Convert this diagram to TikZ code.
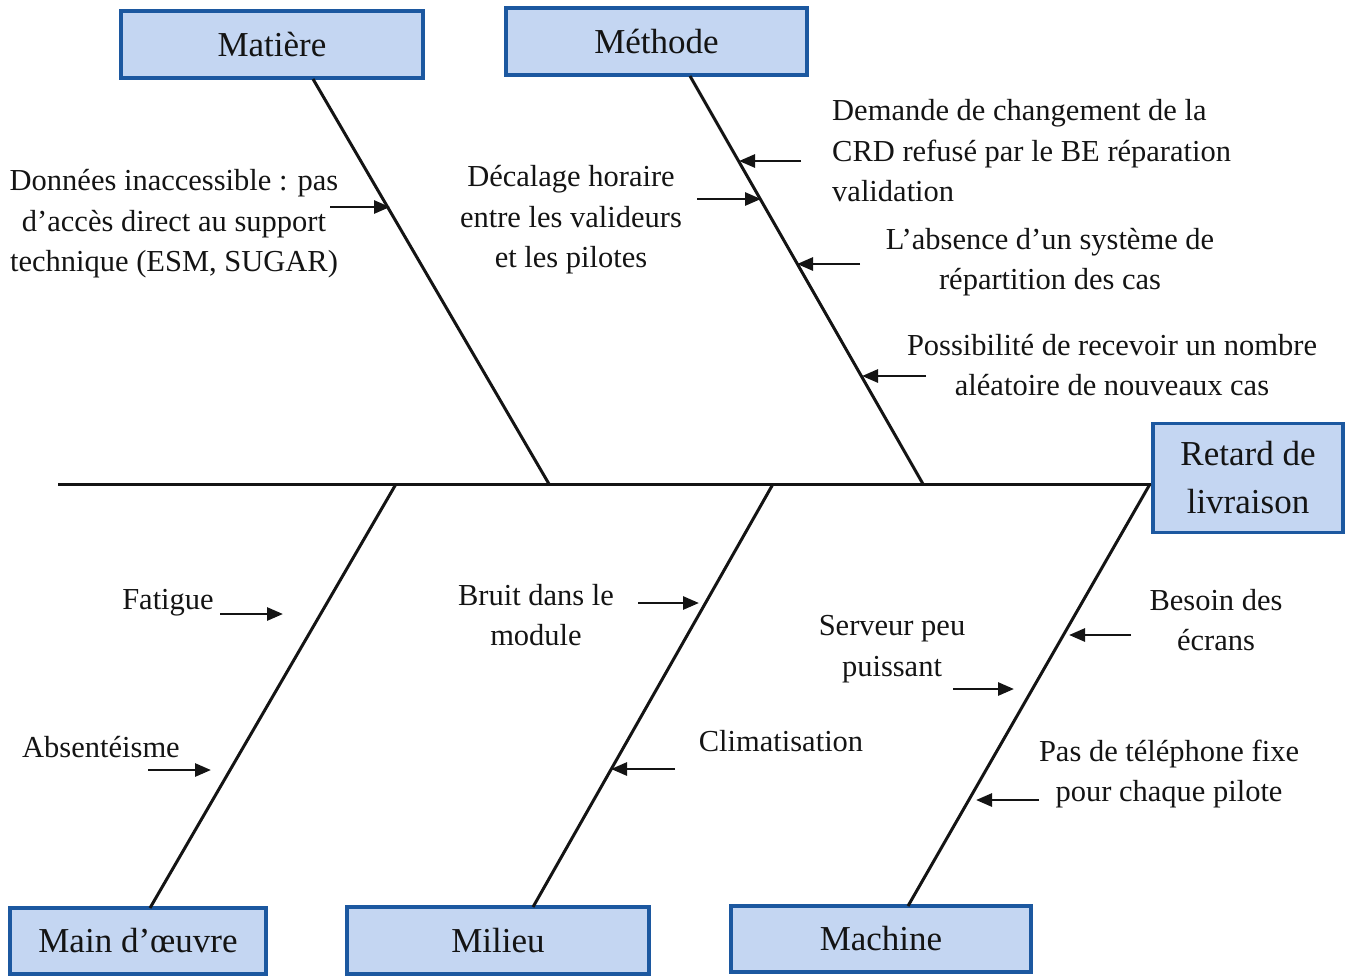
\documentclass[tikz,border=0pt]{standalone}
\usepackage{fontspec}
\setmainfont{Liberation Serif}
\usetikzlibrary{arrows.meta}
\definecolor{boxfill}{RGB}{196,214,242}
\definecolor{boxline}{RGB}{28,88,160}
\definecolor{ink}{RGB}{20,20,20}
\tikzset{
  catbox/.style={draw=boxline, fill=boxfill, line width=3.5pt, inner sep=0pt, align=center,
    font=\fontsize{35}{48}\selectfont, text=ink},
  lbl/.style={inner sep=0pt, align=center, font=\fontsize{30.5}{40.5}\selectfont, text=ink},
  bone/.style={draw=ink, line width=3pt},
  cause/.style={draw=ink, line width=2.8pt, -{Triangle[length=16pt,width=13pt]}}
}
\begin{document}
\begin{tikzpicture}[x=1pt,y=-1pt]
\useasboundingbox (0,0) rectangle (1348,975);
% boxes
\node[catbox, minimum width=302pt, minimum height=67pt] (matiere) at (272,44.5) {Matière};
\node[catbox, minimum width=301pt, minimum height=67pt] (methode) at (656.5,41.5) {Méthode};
\node[catbox, minimum width=190pt, minimum height=109pt] (retard) at (1248,478) {Retard de\\livraison};
\node[catbox, minimum width=256pt, minimum height=66pt] (main) at (138,941) {Main d’œuvre};
\node[catbox, minimum width=302pt, minimum height=67pt] (milieu) at (498,940.5) {Milieu};
\node[catbox, minimum width=300pt, minimum height=66pt] (machine) at (881,939) {Machine};
% spine
\coordinate (tail) at (58,484);
\draw[bone] (tail) -- (retard.west |- tail);
% bone coordinates
\coordinate (mA) at (313,79);   \coordinate (mB) at (549,484);
\coordinate (meA) at (690,76);  \coordinate (meB) at (923,484);
\coordinate (moA) at (396,484); \coordinate (moB) at (150,908);
\coordinate (miA) at (773,484); \coordinate (miB) at (533,907);
\coordinate (maA) at (1150,484);\coordinate (maB) at (908,906);
\draw[bone] (mA) -- (mB);
\draw[bone] (meA) -- (meB);
\draw[bone] (moA) -- (moB);
\draw[bone] (miA) -- (miB);
\draw[bone] (maA) -- (maB);
% labels
\node[lbl] (t1) at (174,224) {Données inaccessible : pas\\d’accès direct au support\\technique (ESM, SUGAR)};
\node[lbl] (t2) at (571,220) {Décalage horaire\\entre les valideurs\\et les pilotes};
\node[lbl, anchor=west, align=left] (t3) at (832,151) {Demande de changement de la\\CRD refusé par le BE réparation\\validation};
\node[lbl] (t4) at (1050,262) {L’absence d’un système de\\répartition des cas};
\node[lbl] (t5) at (1112,365) {Possibilité de recevoir un nombre\\aléatoire de nouveaux cas};
\node[lbl] (t6) at (168,603) {Fatigue};
\node[lbl] (t7) at (101,747) {Absentéisme};
\node[lbl] (t8) at (536,615) {Bruit dans le\\module};
\node[lbl] (t9) at (781,741) {Climatisation};
\node[lbl] (t10) at (892,649) {Serveur peu\\puissant};
\node[lbl] (t11) at (1216,620) {Besoin des\\écrans};
\node[lbl] (t12) at (1169,774) {Pas de téléphone fixe\\pour chaque pilote};
% cause arrows
\coordinate (a1s) at (330,207);  \coordinate (a1e) at (390,207);
\coordinate (a2s) at (697,199);  \coordinate (a2e) at (761,199);
\coordinate (a3s) at (801,161);  \coordinate (a3e) at (739,161);
\coordinate (a4s) at (860,264);  \coordinate (a4e) at (797,264);
\coordinate (a5s) at (926,376);  \coordinate (a5e) at (862,376);
\coordinate (a6s) at (220,614);  \coordinate (a6e) at (283,614);
\coordinate (a7s) at (148,770);  \coordinate (a7e) at (211,770);
\coordinate (a8s) at (638,603);  \coordinate (a8e) at (699,603);
\coordinate (a9s) at (675,769);  \coordinate (a9e) at (611,769);
\coordinate (a10s) at (953,689); \coordinate (a10e) at (1014,689);
\coordinate (a11s) at (1131,635);\coordinate (a11e) at (1069,635);
\coordinate (a12s) at (1039,800);\coordinate (a12e) at (976,800);
\foreach \i in {1,...,12} { \draw[cause] (a\i s) -- (a\i e); }
\end{tikzpicture}
\end{document}
